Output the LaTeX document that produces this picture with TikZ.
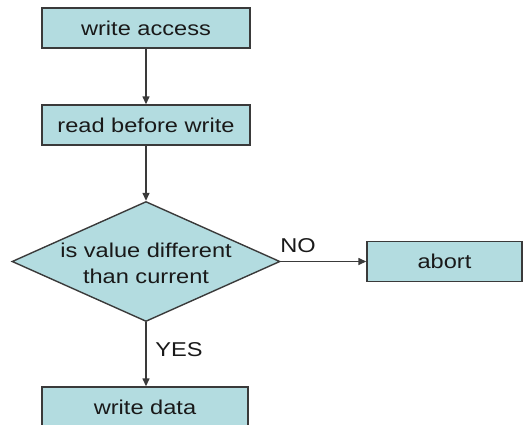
\documentclass[tikz,border=0pt]{standalone}
\usepackage{fontspec}
\setmainfont[FakeStretch=1.18]{Liberation Sans}
\usetikzlibrary{shapes.geometric,arrows.meta}
\definecolor{boxfill}{HTML}{B3DCE0}
\definecolor{edge}{HTML}{3A3A3A}
\begin{document}
\begin{tikzpicture}[x=1pt,y=-1pt,
  every node/.style={font=\fontsize{20}{26}\selectfont, text=black!90},
  stepbox/.style={draw=edge, fill=boxfill, line width=1.4pt, minimum height=40pt, inner sep=0pt},
  decision/.style={draw=edge, fill=boxfill, line width=1.4pt, diamond, minimum width=268pt, minimum height=120pt, inner sep=0pt},
  flow/.style={draw=edge, line width=1.4pt, -{Triangle[length=8pt,width=7pt]}},
  tag/.style={inner sep=0pt}]
  \useasboundingbox (0,0) rectangle (528,424);
  \node[stepbox, minimum width=208pt] (wa) at (146,28) {write access};
  \node[stepbox, minimum width=208pt] (rb) at (146,125) {read before write};
  \node[decision] (dec) at (146,261.5) {};
  \node[tag, align=center] (dtext) at (146,263) {is value different\\than current};
  \node[stepbox, minimum width=155pt] (ab) at (444.5,261.5) {abort};
  \node[stepbox, minimum width=206pt] (wd) at (145,407) {write data};
  \node[tag] (no) at (298,246) {NO};
  \node[tag] (yes) at (179,350) {YES};
  \draw[flow] (wa) -- (rb);
  \draw[flow] (rb) -- (dec.north);
  \draw[flow] (dec.east) -- (ab.west);
  \draw[flow] (dec.south) -- (wd.north -| dec.south);
\end{tikzpicture}
\end{document}
